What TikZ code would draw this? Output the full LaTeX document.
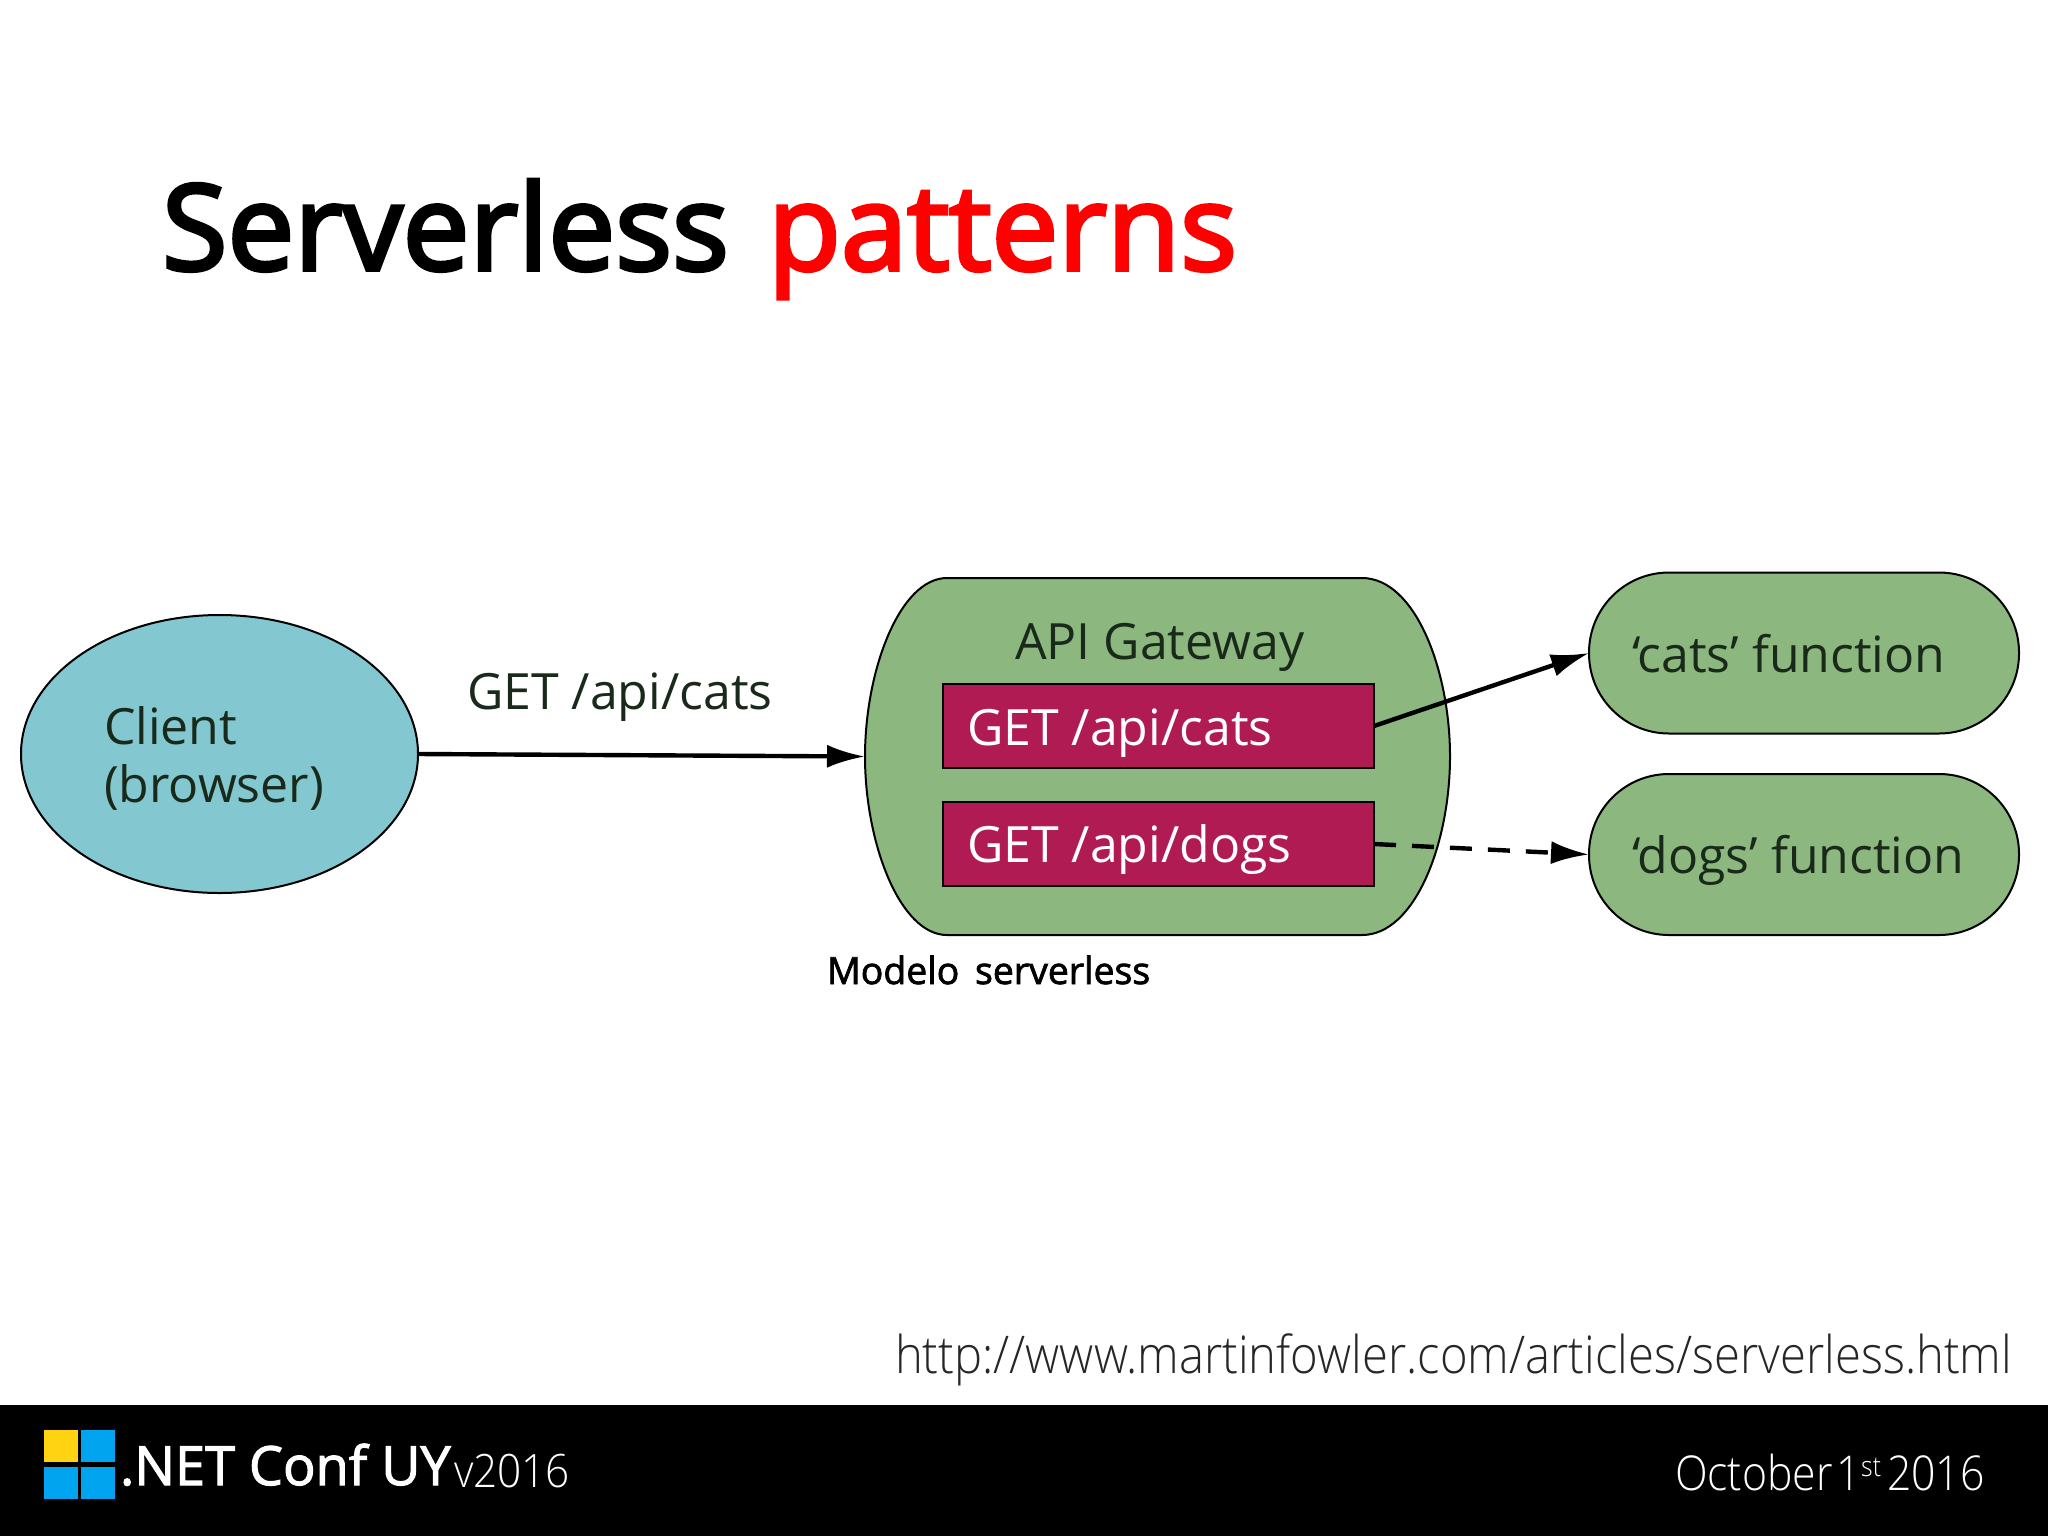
\documentclass[tikz,border=0pt]{standalone}
\usepackage{fontspec}
\setmainfont{Open Sans}
\newfontfamily\semif[FakeBold=2]{Open Sans}
\newfontfamily\titlef[FakeBold=3.2]{Open Sans}
\newfontfamily\lightf{Open Sans Light}
\newfontfamily\lightnarrow[FakeStretch=0.92]{Open Sans Light}
\newfontfamily\lightdate[FakeStretch=0.89]{Open Sans Light}
\newfontfamily\lighturl[FakeStretch=0.907]{Open Sans Light}
\usetikzlibrary{arrows.meta,shapes.geometric}
\definecolor{cyanfill}{HTML}{83C8D0}
\definecolor{greenfill}{HTML}{8CB880}
\definecolor{crimson}{HTML}{B01B53}
\definecolor{msblue}{HTML}{00A4EF}
\definecolor{msyellow}{HTML}{FFD312}
\definecolor{inktext}{HTML}{1A2A1A}
\tikzset{
  txt/.style={anchor=base west,inner sep=0pt,outer sep=0pt},
  shapeline/.style={draw=black,line width=1pt},
  routebox/.style={shapeline,fill=crimson,minimum width=215.5pt,minimum height=42pt,inner sep=0pt,outer sep=0pt},
  fnbox/.style={shapeline,fill=greenfill,rounded corners=40pt,minimum width=215pt,minimum height=80.5pt,inner sep=0pt,outer sep=0pt},
  conn/.style={line width=2.2pt,-{Latex[length=19pt,width=11.5pt]}},
  tile/.style={inner sep=0pt,minimum width=17pt,minimum height=16pt}
}
\begin{document}
\begin{tikzpicture}[x=0.5pt,y=-0.5pt]
\useasboundingbox (0,0) rectangle (2048,1536);
\fill[white] (0,0) rectangle (2048,1536);
% title
\node[txt,font=\titlef\fontsize{59.6}{70}\selectfont] (title) at (162,270) {Serverless\hspace{4pt} \textcolor{red}{patterns}};
% client
\node[shapeline,fill=cyanfill,ellipse,minimum width=198.5pt,minimum height=139pt,inner sep=0pt,outer sep=0pt] (client) at (219.5,754) {};
\node[txt,font=\fontsize{25}{30}\selectfont,text=inktext] (clienta) at (104,744) {Client};
\node[txt,font=\fontsize{25}{30}\selectfont,text=inktext] (clientb) at (104,802) {(browser)};
\node[txt,font=\fontsize{25}{30}\selectfont,text=inktext] (getlabel) at (467,709) {GET /api/cats};
% gateway
\draw[shapeline,fill=greenfill] (947,578) -- (1362,578)
  .. controls (1415,578) and (1450,670) .. (1450,756.5)
  .. controls (1450,843) and (1415,935) .. (1362,935)
  -- (947,935)
  .. controls (900,935) and (865,843) .. (865,756.5)
  .. controls (865,670) and (900,578) .. (947,578) -- cycle;
\node[minimum width=292.5pt,minimum height=178.5pt,inner sep=0pt,outer sep=0pt] (gw) at (1157.5,756.5) {};
\node[txt,font=\fontsize{25}{30}\selectfont,text=inktext] (gwlabel) at (1015,659) {API Gateway};
\node[routebox] (rcats) at (1158.5,726) {};
\node[routebox] (rdogs) at (1158.5,844) {};
\node[txt,font=\fontsize{25}{30}\selectfont,text=white] (rcatst) at (967,745) {GET /api/cats};
\node[txt,font=\fontsize{25}{30}\selectfont,text=white] (rdogst) at (967,862) {GET /api/dogs};
% functions
\node[fnbox] (fcats) at (1804,653) {};
\node[fnbox] (fdogs) at (1804,854.5) {};
\node[txt,font=\fontsize{25}{30}\selectfont,text=inktext] (fcatst) at (1632,672) {‘cats’ function};
\node[txt,font=\fontsize{25}{30}\selectfont,text=inktext] (fdogst) at (1632,873) {‘dogs’ function};
% connectors
\draw[conn] (client.east) -- (gw.west);
\draw[conn] (rcats.east) -- (fcats.west);
\draw[conn,dash pattern=on 11pt off 8pt] (rdogs.east) -- (fdogs.west);
% caption and link
\node[txt,font=\semif\fontsize{18.7}{24}\selectfont] (caption) at (827,984) {Modelo\hspace{3pt} serverless};
\node[txt,font=\lighturl\fontsize{26}{30}\selectfont,text=black!85] (url) at (895,1373) {http://www.martinfowler.com/articles/serverless.html};
% footer
\fill[black] (0,1405) rectangle (2048,1536);
\node[tile,fill=msyellow,anchor=north west] (t1) at (44,1430) {};
\node[tile,fill=msblue,anchor=north west] (t2) at (81,1430) {};
\node[tile,fill=msblue,anchor=north west] (t3) at (44,1467) {};
\node[tile,fill=msblue,anchor=north west] (t4) at (81,1467) {};
\node[txt,font=\semif\fontsize{27}{30}\selectfont,text=white] (conf) at (120,1485) {.NET Conf UY};
\node[txt,font=\lightnarrow\fontsize{23}{30}\selectfont,text=white] (ver) at (454,1487) {v2016};
\node[txt,font=\lightdate\fontsize{24}{30}\selectfont,text=white] (date) at (1675,1490) {October\hspace{2pt}1\raisebox{7pt}{\fontsize{14}{14}\selectfont st}\hspace{3pt}2016};
\end{tikzpicture}
\end{document}
